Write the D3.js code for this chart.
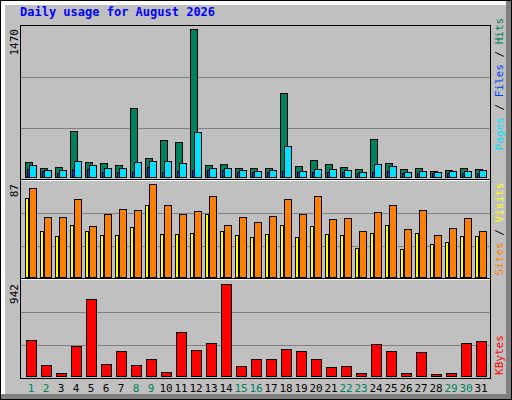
<!DOCTYPE html>
<html><head><meta charset="utf-8">
<script src="https://cdn.jsdelivr.net/npm/d3@7"></script>
<style>body{margin:0;background:#fff}svg{display:block}</style>
</head><body>
<script>
const days = d3.range(1,32);
const weekend = [1,2,8,9,15,16,22,23,29,30];
const hits  = [149,89,99,457,149,139,119,685,189,367,348,1470,119,129,89,89,89,834,109,169,129,99,79,377,139,79,89,60,70,89,79];
const files = [119,70,70,159,119,89,89,149,159,159,139,447,89,89,70,60,70,308,60,79,79,70,50,129,109,50,60,50,60,60,70];
const pages = [79,60,43,79,79,50,50,50,99,50,60,70,70,70,50,50,50,60,50,50,50,50,40,50,60,40,40,40,40,40,40];
const sites = [83,56,56,73,48,59,64,63,87,67,59,62,76,49,56,51,57,73,59,76,54,55,43,61,67,45,63,39,46,55,43];
const visits= [74,43,38,49,43,39,39,47,67,40,40,41,59,43,39,37,40,49,37,48,40,39,27,41,49,26,41,31,33,38,38];
const kbytes= [365,117,34,303,788,127,251,117,169,45,447,262,334,942,107,169,179,272,251,179,96,107,34,324,251,34,241,24,34,334,354];
const maxLabels = ["1470","87","942"];

const W=512,H=400;
const svg=d3.select("body").append("svg").attr("width",W).attr("height",H);
svg.append("rect").attr("width",W).attr("height",H).attr("fill","#c0c0c0");
// 3D frame
svg.append("rect").attr("x",0).attr("y",0).attr("width",W).attr("height",5).attr("fill","#fff");
svg.append("rect").attr("x",0).attr("y",0).attr("width",5).attr("height",H).attr("fill","#fff");
svg.append("rect").attr("x",W-6).attr("y",0).attr("width",6).attr("height",H).attr("fill","#808080");
svg.append("rect").attr("x",0).attr("y",H-6).attr("width",W).attr("height",6).attr("fill","#808080");
svg.append("rect").attr("x",0.5).attr("y",0.5).attr("width",W-1).attr("height",H-1).attr("fill","none").attr("stroke","#000");

const font="'DejaVu Sans Mono', monospace";
svg.append("text").attr("x",20).attr("y",16).attr("fill","#0000ff").attr("font-family",font)
  .attr("font-weight","bold").attr("font-size",12).text("Daily usage for August 2026");

const x=d3.scaleLinear().domain([1,31]).range([25,475]);
const panels=[{top:25,bot:180,base:177,maxY:29,max:1470},
              {top:180,bot:279,base:277,maxY:184,max:87},
              {top:279,bot:378,base:376,maxY:284,max:942}];
// panel frames
svg.append("rect").attr("x",20.5).attr("y",25.5).attr("width",470).attr("height",353).attr("fill","none").attr("stroke","#000").attr("stroke-width",1);
panels.forEach((p,i)=>{
  const h=p.bot-p.top;
  [1/3,2/3].forEach(f=>svg.append("line").attr("x1",21).attr("x2",490)
     .attr("y1",Math.round(p.top+h*f)+0.5).attr("y2",Math.round(p.top+h*f)+0.5).attr("stroke","#808080"));
  p.y=d3.scaleLinear().domain([0,p.max]).range([p.base,p.maxY]);
  const t=svg.append("text").attr("transform",`translate(18,${p.maxY}) rotate(-90)`).attr("text-anchor","end")
    .attr("font-family",font).attr("font-size",11).attr("fill","#000").text(maxLabels[i]);
});
// panel separators
[180,279].forEach(y=>{
  svg.append("line").attr("x1",21).attr("x2",490).attr("y1",y-0.5).attr("y2",y-0.5).attr("stroke","#000");
  svg.append("line").attr("x1",21).attr("x2",490).attr("y1",y+0.5).attr("y2",y+0.5).attr("stroke","#fff");
});
svg.append("line").attr("x1",490.5).attr("x2",490.5).attr("y1",25).attr("y2",379).attr("stroke","#000");
svg.append("line").attr("x1",20).attr("x2",491).attr("y1",378.5).attr("y2",378.5).attr("stroke","#000");

function bars(data,p,dx,w,color){
  svg.append("g").selectAll("rect").data(data).join("rect")
    .attr("x",(d,i)=>x(days[i])+dx+0.5).attr("width",w)
    .attr("y",d=>Math.round(p.y(d))+0.5).attr("height",d=>p.base-Math.round(p.y(d)))
    .attr("fill",color).attr("stroke","#000").attr("stroke-width",1);
}
bars(hits,panels[0],0,7,"#00805c");
bars(files,panels[0],4,7,"#00e0ff");
bars(pages,panels[0],2,2,"#0040ff");
bars(sites,panels[1],4,7,"#ff8000");
bars(visits,panels[1],0,3,"#ffff00");
bars(kbytes,panels[2],1,10,"#ff0000");

svg.append("g").selectAll("text").data(days).join("text")
  .attr("x",d=>x(d)+6).attr("y",392).attr("text-anchor","middle")
  .attr("font-family",font).attr("font-size",11)
  .attr("fill",d=>weekend.includes(d)?"#00805c":"#000").text(d=>d);

function side(cy,parts){
  const t=svg.append("text").attr("transform",`translate(503,${cy}) rotate(-90)`).attr("text-anchor","middle")
    .attr("font-family",font).attr("font-size",11);
  parts.forEach(([s,c])=>t.append("tspan").attr("fill",c).text(s));
}
side(84,[["Pages","#00e0ff"],[" / ","#000"],["Files","#0040ff"],[" / ","#000"],["Hits","#00805c"]]);
side(229,[["Sites","#ff8000"],[" / ","#000"],["Visits","#ffff00"]]);
side(355,[["KBytes","#ff0000"]]);
</script>
</body></html>
